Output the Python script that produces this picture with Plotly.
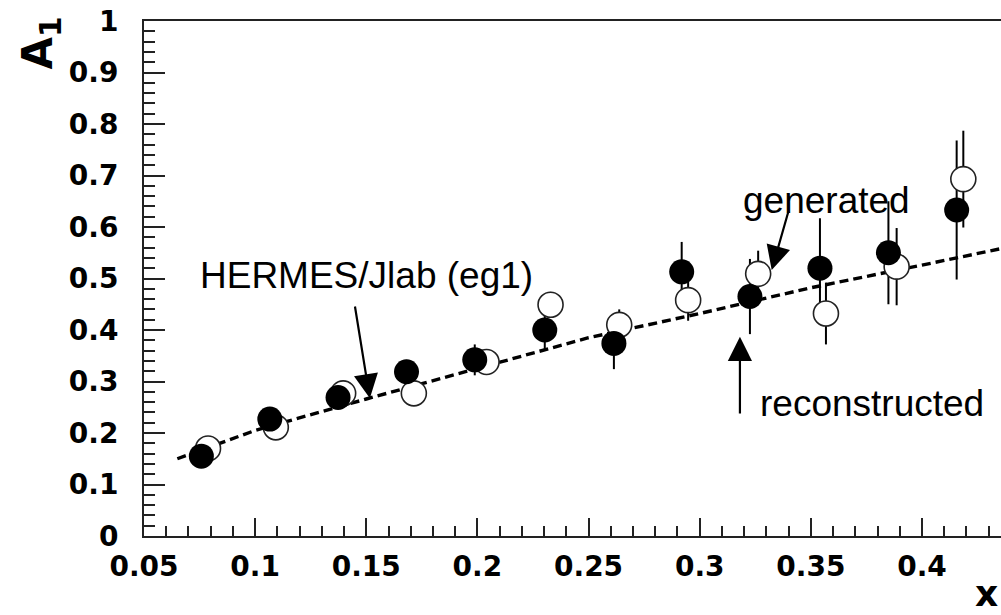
import plotly.graph_objects as go

# reconstructed (filled)
x_rec = [0.0758, 0.1066, 0.1373, 0.1681, 0.1988, 0.2303, 0.2614, 0.2919, 0.3226, 0.3541, 0.3849, 0.4156]
y_rec = [0.155, 0.227, 0.269, 0.319, 0.342, 0.400, 0.374, 0.513, 0.465, 0.520, 0.550, 0.633]
e_rec = [0.008, 0.010, 0.012, 0.023, 0.030, 0.040, 0.050, 0.058, 0.073, 0.097, 0.100, 0.135]

# generated (open)
x_gen = [0.0788, 0.1093, 0.1396, 0.1714, 0.2041, 0.2329, 0.2638, 0.2948, 0.3263, 0.3568, 0.3886, 0.4186]
y_gen = [0.170, 0.211, 0.277, 0.277, 0.338, 0.449, 0.410, 0.458, 0.509, 0.432, 0.523, 0.693]
e_gen = [0.008, 0.010, 0.010, 0.012, 0.018, 0.025, 0.030, 0.040, 0.045, 0.060, 0.075, 0.094]

# HERMES/Jlab (eg1) curve
x_fit = [0.065, 0.10, 0.15, 0.20, 0.25, 0.30, 0.35, 0.40, 0.44]
y_fit = [0.150, 0.205, 0.266, 0.326, 0.385, 0.432, 0.482, 0.526, 0.562]

BLACK = "#000000"
tick_font = dict(family="DejaVu Sans", size=28, color=BLACK, weight="bold")
label_font = dict(family="Liberation Sans, Arial", size=37, color=BLACK)

fig = go.Figure()

fig.add_trace(go.Scatter(
    x=x_fit, y=y_fit, mode="lines",
    line=dict(color=BLACK, width=3.4, dash="9px,5px"),
    showlegend=False, hoverinfo="skip"))

# error bars of reconstructed points (drawn below open markers)
fig.add_trace(go.Scatter(
    x=x_rec, y=y_rec, mode="markers",
    marker=dict(size=1, color="rgba(0,0,0,0)"),
    error_y=dict(type="data", array=e_rec, color=BLACK, thickness=2, width=0),
    showlegend=False))

fig.add_trace(go.Scatter(
    x=x_gen, y=y_gen, mode="markers",
    marker=dict(symbol="circle", size=25, color="white", line=dict(color="#222222", width=1.6)),
    error_y=dict(type="data", array=e_gen, color=BLACK, thickness=2, width=0),
    showlegend=False))

fig.add_trace(go.Scatter(
    x=x_rec, y=y_rec, mode="markers",
    marker=dict(symbol="circle", size=25, color=BLACK, line=dict(width=0)),
    showlegend=False))

arrow_style = dict(xref="x", yref="y", axref="x", ayref="y", showarrow=True,
                   arrowhead=2, arrowsize=2.2, arrowwidth=2.2, arrowcolor=BLACK, text="")

annotations = [
    dict(text="HERMES/Jlab (eg1)", x=0.1500, y=0.506, xref="x", yref="y",
         showarrow=False, font=label_font),
    dict(text="generated", x=0.3570, y=0.652, xref="x", yref="y",
         showarrow=False, font=label_font),
    dict(text="reconstructed", x=0.3773, y=0.258, xref="x", yref="y",
         showarrow=False, font=label_font),
    dict(x=0.1516, y=0.2674, ax=0.1448, ay=0.4485, **arrow_style),
    dict(x=0.3324, y=0.5165, ax=0.3401, ay=0.633, **arrow_style),
    dict(x=0.3181, y=0.387, ax=0.3181, ay=0.235, **arrow_style),
    # axis titles
    dict(text="A<sub>1</sub>", x=-0.121, y=0.957, xref="paper", yref="paper",
         xanchor="center", yanchor="middle", textangle=-90, showarrow=False,
         font=dict(family="DejaVu Sans", size=42, color=BLACK, weight="bold")),
    dict(text="x", x=0.9985, y=-0.112, xref="paper", yref="paper",
         xanchor="right", yanchor="middle", showarrow=False,
         font=dict(family="DejaVu Sans", size=36, color=BLACK, weight="bold")),
]

fig.update_layout(
    width=1001, height=615,
    margin=dict(l=144, r=0, t=21, b=79),
    paper_bgcolor="white", plot_bgcolor="white",
    annotations=annotations,
    showlegend=False,
)

fig.update_xaxes(
    range=[0.05, 0.43555], tick0=0.05, dtick=0.05,
    ticks="inside", ticklen=18, tickwidth=2, tickcolor="#222222",
    minor=dict(dtick=0.01, tick0=0.05, ticks="inside", ticklen=10, tickwidth=2, tickcolor="#222222", showgrid=False),
    showline=True, linecolor="#222222", linewidth=2, mirror=True,
    showgrid=False, zeroline=False, tickfont=tick_font, ticklabelstandoff=4,
    automargin=False,
)
fig.update_yaxes(
    range=[0, 1], tick0=0, dtick=0.1,
    ticks="inside", ticklen=21, tickwidth=2, tickcolor="#222222",
    minor=dict(dtick=0.02, tick0=0, ticks="inside", ticklen=11, tickwidth=2, tickcolor="#222222", showgrid=False),
    showline=True, linecolor="#222222", linewidth=2, mirror=False,
    showgrid=False, zeroline=False, tickfont=tick_font, ticklabelstandoff=18,
    automargin=False,
)

fig.write_html("out.html")
